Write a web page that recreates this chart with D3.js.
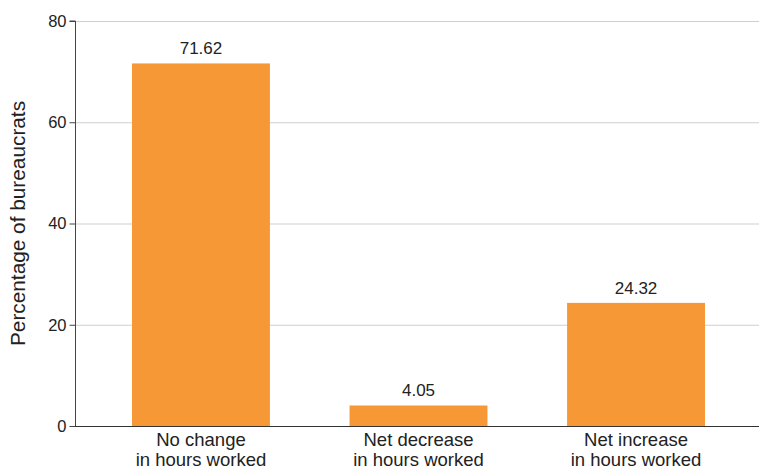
<!DOCTYPE html>
<html>
<head>
<meta charset="utf-8">
<script src="https://cdn.jsdelivr.net/npm/d3@7"></script>
<style>
  html, body { margin: 0; padding: 0; background: #fff; }
  svg { display: block; font-family: "Liberation Sans", Arial, Helvetica, sans-serif; }
</style>
</head>
<body>
<svg id="chart" width="759" height="470"></svg>
<script>
// Share of bureaucrats by change in hours worked
const categories = [
  ["No change", "in hours worked"],
  ["Net decrease", "in hours worked"],
  ["Net increase", "in hours worked"]
];
const values = [71.62, 4.05, 24.32];
const yTicks = [0, 20, 40, 60, 80];
const yTitle = "Percentage of bureaucrats";

const svg = d3.select("#chart");
const W = 759, H = 470;
const margin = { left: 75, top: 21, bottom: 44 };

// band range runs slightly past the right edge so the last bar sits where it should
const x = d3.scaleBand()
  .domain(d3.range(categories.length))
  .range([margin.left, 762])
  .paddingInner(0.366)
  .paddingOuter(0.262);

const y = d3.scaleLinear()
  .domain([0, 80])
  .range([H - margin.bottom, margin.top]);

// gridlines
svg.append("g")
  .selectAll("line")
  .data(yTicks.filter(d => d > 0))
  .join("line")
  .attr("x1", margin.left)
  .attr("x2", W)
  .attr("y1", d => y(d) + 0.5)
  .attr("y2", d => y(d) + 0.5)
  .attr("stroke", "#cfcfcf")
  .attr("stroke-width", 1);

// bars
svg.append("g")
  .selectAll("rect")
  .data(values)
  .join("rect")
  .attr("x", (d, i) => x(i))
  .attr("width", x.bandwidth())
  .attr("y", d => y(d))
  .attr("height", d => y(0) - y(d))
  .attr("fill", "#F59835");

// value labels
svg.append("g")
  .selectAll("text")
  .data(values)
  .join("text")
  .attr("x", (d, i) => x(i) + x.bandwidth() / 2)
  .attr("y", d => y(d) - 9)
  .attr("text-anchor", "middle")
  .attr("font-size", 17)
  .attr("fill", "#222")
  .text(d => d.toFixed(2));

// y axis
const yAxis = svg.append("g")
  .attr("transform", `translate(${margin.left + 0.5},0)`)
  .call(d3.axisLeft(y).tickValues(yTicks).tickSize(6).tickPadding(3).tickFormat(d3.format("d")));
yAxis.attr("font-family", null);
yAxis.select(".domain").attr("stroke", "#444").attr("d", `M-6,${y(80)}H0V${y(0)}`);
yAxis.selectAll(".tick line").attr("stroke", "#444");
yAxis.selectAll(".tick text")
  .attr("font-size", 16.5)
  .attr("fill", "#222");

// baseline
svg.append("line")
  .attr("x1", margin.left)
  .attr("x2", W)
  .attr("y1", y(0) + 0.5)
  .attr("y2", y(0) + 0.5)
  .attr("stroke", "#333")
  .attr("stroke-width", 1.2);

// category labels
const xl = svg.append("g")
  .selectAll("text")
  .data(categories)
  .join("text")
  .attr("text-anchor", "middle")
  .attr("font-size", 18.5)
  .attr("fill", "#222")
  .attr("transform", (d, i) => `translate(${x(i) + x.bandwidth() / 2},0)`);
xl.selectAll("tspan")
  .data(d => d)
  .join("tspan")
  .attr("x", 0)
  .attr("y", (d, j) => 446 + j * 20)
  .text(d => d);

// y axis title
svg.append("text")
  .attr("transform", `translate(24.5,223.5) rotate(-90)`)
  .attr("text-anchor", "middle")
  .attr("font-size", 20.8)
  .attr("fill", "#222")
  .text(yTitle);
</script>
</body>
</html>
